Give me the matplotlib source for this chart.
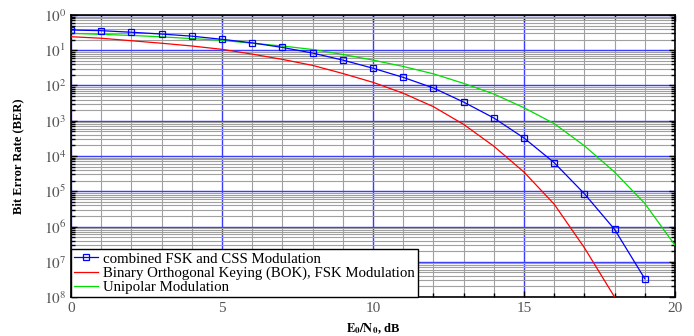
import matplotlib
matplotlib.use('Agg')
import matplotlib.pyplot as plt
import numpy as np
from matplotlib.ticker import FixedLocator, FixedFormatter, MultipleLocator, NullFormatter

# ######################## Data ########################
snr_db = list(range(0, 21))

ber_combined = [0.375, 0.359, 0.324, 0.288, 0.251, 0.204, 0.162, 0.120, 0.0832,
                0.0525, 0.0309, 0.0170, 0.00851, 0.00339, 0.00120, 3.24e-4,
                6.46e-5, 8.5e-6, 8.3e-7, 3.3e-8]

ber_bok = [0.242, 0.219, 0.186, 0.158, 0.132, 0.106, 0.0776, 0.0550, 0.0372,
           0.0219, 0.0123, 0.00603, 0.00251, 7.9e-4, 1.9e-4, 3.5e-5, 4.3e-6,
           2.5e-7, 1e-8]

ber_unipolar = [0.302, 0.282, 0.263, 0.240, 0.214, 0.191, 0.158, 0.132, 0.105,
                0.0759, 0.0525, 0.0347, 0.0214, 0.0115, 0.00575, 0.00234,
                8.3e-4, 1.95e-4, 3.5e-5, 4.5e-6, 2.95e-7]

labels = ['combined FSK and CSS Modulation',
          'Binary Orthogonal Keying (BOK), FSK Modulation',
          'Unipolar Modulation']

ytick_exp = list(range(0, 9))
ytick_labels = [r'$10^{%d}$' % k for k in ytick_exp]   # as printed on the chart
xtick_major = [0, 5, 10, 15, 20]

# ######################## Plot ########################
plt.rcParams['font.family'] = ['Liberation Serif', 'DejaVu Serif']
plt.rcParams['mathtext.fontset'] = 'stix'

fig = plt.figure(figsize=(6.94, 3.36), dpi=100)
ax = fig.add_axes([0.1023, 0.116, 0.8703, 0.8394])

ax.plot(snr_db[:len(ber_combined)], ber_combined, color='#0000ff', lw=0.9,
        marker='s', ms=5, mfc='none', mec='#0000ff', mew=0.9, label=labels[0], zorder=5)
ax.plot(snr_db[:len(ber_bok)], ber_bok, color='#ff0000', lw=0.9, label=labels[1], zorder=4)
ax.plot(snr_db[:len(ber_unipolar)], ber_unipolar, color='#00dd00', lw=0.9, label=labels[2], zorder=4)

ax.set_yscale('log')
ax.set_ylim(1e-8, 1)
ax.set_xlim(0, 20)

ax.yaxis.set_major_locator(FixedLocator([10.0 ** -k for k in ytick_exp]))
ax.yaxis.set_major_formatter(FixedFormatter(ytick_labels))
ax.yaxis.set_minor_locator(matplotlib.ticker.LogLocator(base=10, subs=np.arange(2, 10)))
ax.yaxis.set_minor_formatter(NullFormatter())
ax.xaxis.set_major_locator(FixedLocator(xtick_major))
ax.xaxis.set_minor_locator(MultipleLocator(1))

ax.grid(True, which='minor', color='#a0a0a0', lw=0.8)
ax.grid(True, which='major', axis='y', color='#3c3cff', lw=1.0)
ax.grid(True, which='major', axis='x', color='#3c3cff', lw=1.0)
ax.set_axisbelow(True)

ax.tick_params(which='both', direction='in', top=True, right=True,
               labelsize=11, labelcolor='#555555', width=1.0)
ax.tick_params(which='major', length=4)
ax.tick_params(which='minor', length=3)
for s in ax.spines.values():
    s.set_linewidth(1.2)

ax.set_ylabel('Bit Error Rate (BER)', fontsize=9, fontweight='bold', labelpad=14)
ax.set_xlabel(r'$\mathbf{E_0/N_0}$, dB', fontsize=9, fontweight='bold', labelpad=0)
ax.xaxis.set_label_coords(0.5, -0.085)

leg = ax.legend(loc='lower left', fontsize=10.7, fancybox=False, framealpha=1,
                edgecolor='black', borderaxespad=0, handlelength=1.6,
                handletextpad=0.35, labelspacing=0.05, borderpad=0.2)
leg.get_frame().set_linewidth(1.0)

fig.savefig('out.png', dpi=100)
